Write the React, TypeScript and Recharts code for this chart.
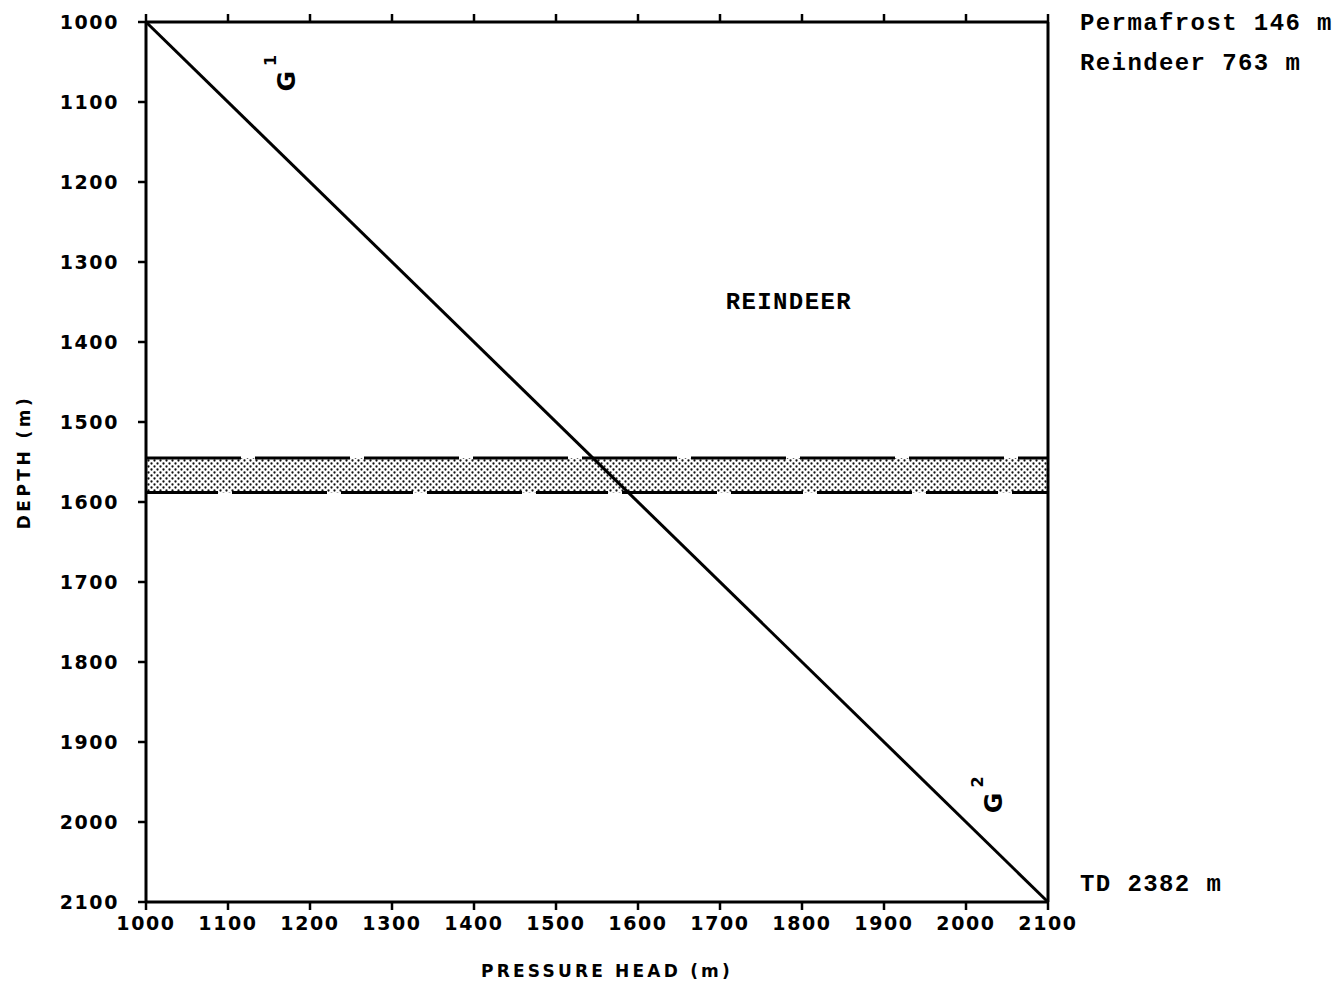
import { LineChart, Line, XAxis, YAxis, ReferenceArea, ReferenceLine, ReferenceDot } from "recharts";

// pressure head (m) vs depth (m) for the gradient line G1 -> G2
const headValues = [1000, 2100];
const depthValues = [1000, 2100];
const axisTicks = [1000, 1100, 1200, 1300, 1400, 1500, 1600, 1700, 1800, 1900, 2000, 2100];

// shaded Reindeer interval (depth, m)
const bandTop = 1545;
const bandBottom = 1588;

// text notes anchored in data units
const sideNotes = [
  { head: 2100, depth: 1002, text: "Permafrost 146 m" },
  { head: 2100, depth: 1052, text: "Reindeer 763 m" },
  { head: 2100, depth: 2078, text: "TD 2382 m" },
];
const gradientNotes = [
  { head: 1171, depth: 1064, sup: "1" },
  { head: 2033, depth: 1966, sup: "2" },
];
const formationNote = { head: 1784, depth: 1351, text: "REINDEER" };

const data = headValues.map((h, i) => ({ head: h, depth: depthValues[i] }));

const sans = "'DejaVu Sans', sans-serif";
const mono = "'Liberation Mono', monospace";

const TICK = 8;
const X_MARGIN = 7;
const Y_MARGIN = 19;
const axisLineStyle = { stroke: "#000", strokeWidth: 3 };
const tickLineStyle = { stroke: "#000", strokeWidth: 2.5 };
const labelProps = { fill: "#000", fontSize: 19, fontWeight: 700, fontFamily: sans, letterSpacing: 1.6 };

// tick mark + label drawn together so the mark is always there
const BottomTick = (props: any) => {
  const { x, y, payload } = props;
  const top = y - X_MARGIN - TICK;
  return (
    <g>
      <line x1={x} x2={x} y1={top} y2={top + TICK} stroke="#000" strokeWidth={2.5} />
      <text x={x} y={y} dy="0.71em" textAnchor="middle" {...labelProps}>{payload.value}</text>
    </g>
  );
};

const LeftTick = (props: any) => {
  const { x, y, payload } = props;
  const right = x + Y_MARGIN + TICK;
  return (
    <g>
      <line x1={right - TICK} x2={right} y1={y} y2={y} stroke="#000" strokeWidth={2.5} />
      <text x={x} y={y} dy="0.355em" textAnchor="end" {...labelProps}>{payload.value}</text>
    </g>
  );
};

export default function App() {
  return (
    <div style={{ position: "absolute", left: 0, top: 0, background: "#fff" }}>
      <LineChart width={1341} height={987} data={data} margin={{ top: 0, right: 0, bottom: 0, left: 0 }}>
        <defs>
          <pattern id="stipple" width="6" height="6" patternUnits="userSpaceOnUse">
            <rect width="6" height="6" fill="#fff" />
            <circle cx="1.5" cy="1.5" r="1.15" fill="#111" />
            <circle cx="4.5" cy="4.5" r="1.15" fill="#111" />
          </pattern>
        </defs>
        <XAxis
          xAxisId="bottom"
          type="number"
          dataKey="head"
          domain={[1000, 2100]}
          ticks={axisTicks}
          height={85}
          stroke="#000"
          axisLine={axisLineStyle}
          tickLine={false}
          tickSize={TICK}
          tickMargin={X_MARGIN}
          tick={<BottomTick />}
          label={(props: any) => {
            const vb = props.viewBox;
            return (
              <text x={vb.x + vb.width / 2 + 10} y={vb.y + 75} textAnchor="middle" fontFamily={sans} fontWeight={700} fontSize={17} letterSpacing={3.2} fill="#000">
                PRESSURE HEAD (m)
              </text>
            );
          }}
        />
        <XAxis
          xAxisId="top"
          orientation="top"
          type="number"
          dataKey="head"
          domain={[1000, 2100]}
          ticks={axisTicks}
          height={22}
          stroke="#000"
          axisLine={axisLineStyle}
          tickLine={tickLineStyle}
          tickSize={TICK}
          tickFormatter={() => ""}
        />
        <YAxis
          yAxisId="left"
          type="number"
          dataKey="depth"
          domain={[1000, 2100]}
          reversed
          ticks={axisTicks}
          width={146}
          stroke="#000"
          axisLine={axisLineStyle}
          tickLine={false}
          tickSize={TICK}
          tickMargin={Y_MARGIN}
          tick={<LeftTick />}
          label={(props: any) => {
            const vb = props.viewBox;
            const cx = vb.x + 24;
            const cy = vb.y + vb.height / 2;
            return (
              <text x={cx} y={cy} transform={`rotate(-90 ${cx} ${cy})`} textAnchor="middle" dominantBaseline="central" fontFamily={sans} fontWeight={700} fontSize={17} letterSpacing={3.5} fill="#000">
                DEPTH (m)
              </text>
            );
          }}
        />
        <YAxis
          yAxisId="right"
          orientation="right"
          type="number"
          domain={[1000, 2100]}
          reversed
          ticks={axisTicks}
          width={293}
          stroke="#000"
          axisLine={axisLineStyle}
          tickLine={tickLineStyle}
          tickSize={TICK}
          tickFormatter={() => ""}
        />
        <ReferenceArea xAxisId="bottom" yAxisId="left" y1={bandTop} y2={bandBottom} fill="url(#stipple)" fillOpacity={1} stroke="none" />
        <ReferenceLine xAxisId="bottom" yAxisId="left" y={bandTop} stroke="#000" strokeWidth={3} strokeDasharray="95 14" />
        <ReferenceLine xAxisId="bottom" yAxisId="left" y={bandBottom} stroke="#000" strokeWidth={3} strokeDasharray="72 14 95 14" />
        <Line
          xAxisId="bottom"
          yAxisId="left"
          dataKey="depth"
          stroke="#000"
          strokeWidth={3}
          dot={false}
          activeDot={false}
          isAnimationActive={false}
        />
        <ReferenceDot
          xAxisId="bottom"
          yAxisId="left"
          x={formationNote.head}
          y={formationNote.depth}
          r={1}
          fill="none"
          stroke="none"
          label={(props: any) => {
            const vb = props.viewBox;
            return (
              <text x={vb.x + vb.width / 2} y={vb.y + vb.height / 2} textAnchor="middle" dominantBaseline="central" fontFamily={mono} fontWeight={700} fontSize={24} letterSpacing={1.4} fill="#000">
                {formationNote.text}
              </text>
            );
          }}
        />
        {sideNotes.map((n) => (
          <ReferenceDot
            key={n.text}
            xAxisId="bottom"
            yAxisId="left"
            x={n.head}
            y={n.depth}
            r={1}
            fill="none"
            stroke="none"
            ifOverflow="visible"
            label={(props: any) => {
              const vb = props.viewBox;
              return (
                <text x={vb.x + vb.width / 2 + 32} y={vb.y + vb.height / 2} dominantBaseline="central" fontFamily={mono} fontWeight={700} fontSize={24} letterSpacing={1.4} fill="#000">
                  {n.text}
                </text>
              );
            }}
          />
        ))}
        {gradientNotes.map((n) => (
          <ReferenceDot
            key={n.sup}
            xAxisId="bottom"
            yAxisId="left"
            x={n.head}
            y={n.depth}
            r={1}
            fill="none"
            stroke="none"
            label={(props: any) => {
              const vb = props.viewBox;
              const cx = vb.x + vb.width / 2;
              const cy = vb.y + vb.height / 2;
              return (
                <text x={cx} y={cy} transform={`rotate(-90 ${cx} ${cy})`} textAnchor="middle" dominantBaseline="central" fontFamily={sans} fontWeight={700} fontSize={25} fill="#000">
                  <tspan>G</tspan>
                  <tspan dx={5} dy={-16} fontSize={16}>{n.sup}</tspan>
                </text>
              );
            }}
          />
        ))}
      </LineChart>
    </div>
  );
}
